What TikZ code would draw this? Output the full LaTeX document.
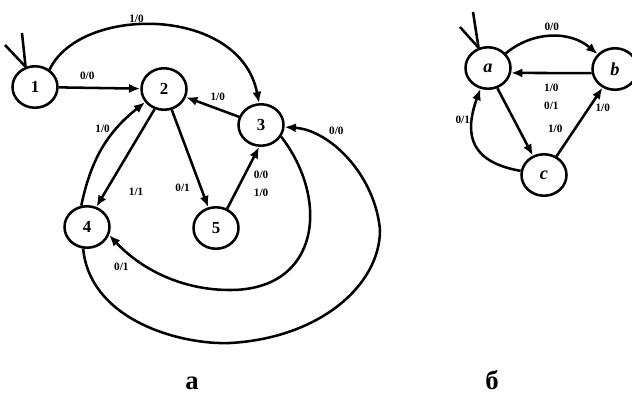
\documentclass[tikz,border=0pt]{standalone}
\usepackage{fontspec}
\setmainfont{Liberation Serif}
\usetikzlibrary{shapes.geometric, arrows.meta}

\begin{document}
\begin{tikzpicture}[
    x=0.025cm, y=-0.025cm,
    state/.style={draw, ellipse, line width=1.8pt, minimum width=32pt, minimum height=29.5pt, inner sep=0pt, font=\fontsize{12}{13}\selectfont\bfseries},
    letterstate/.style={state, font=\fontsize{13}{14}\selectfont\bfseries\itshape},
    arrow/.style={-{Latex[length=8pt, width=6.5pt]}, line width=1.8pt},
    plain/.style={line width=1.8pt},
    lbl/.style={font=\fontsize{8}{12.5}\selectfont\bfseries, inner sep=1pt, align=center},
    caption/.style={font=\fontsize{19}{21}\selectfont\bfseries}
]
    \useasboundingbox (0,0) rectangle (632,404);

    \node (s1) [state] at (35,87) {1};
    \node (s2) [state] at (164,89) {2};
    \node (s3) [state] at (261,125) {3};
    \node (s4) [state] at (87,227) {4};
    \node (s5) [state] at (216,228) {5};
    \coordinate (in1a) at (22,33);
    \coordinate (in1b) at (5,45);

    \draw [plain] (in1a) -- (s1.115);
    \draw [plain] (in1b) -- (s1.115);
    \draw [arrow] (s1) -- node[lbl, above=4pt, pos=0.35] {0/0} (s2);
    \draw [arrow] (s1.50) .. controls (80,5) and (240,5) .. node[lbl, above, pos=0.42] {1/0} (s3.95);
    \draw [arrow] (s3) -- node[lbl, above=4pt, pos=0.4] {1/0} (s2);
    \draw [arrow] (s4.105) to[bend left=20] node[lbl, left=3pt, pos=0.7] {1/0} (s2.215);
    \draw [arrow] (s2.-115) -- node[lbl, right=15pt, pos=0.85] {1/1} (s4.65);
    \draw [arrow] (s2) -- node[lbl, left=6pt, pos=0.8] {0/1} (s5);
    \draw [arrow] (s5.60) -- node[lbl, right=8pt, pos=0.4] {0/0\\1/0} (s3.-95);
    \draw [arrow] (s3.-30) .. controls (330,200) and (320,290) .. (230,290)
        .. controls (180,290) and (140,268) .. node[lbl, below left=2pt, pos=0.75] {0/1} (s4.-20);
    \draw [arrow] (s4.-100) .. controls (90,320) and (180,345) .. (230,343)
        .. controls (320,338) and (380,285) .. (380,230)
        .. controls (375,175) and (330,130) .. node[lbl, above=8pt, pos=0.6] {0/0} (s3.-5);

    \node (sa) [letterstate] at (488,68) {a};
    \node (sb) [letterstate] at (615,69) {b};
    \node (sc) [letterstate] at (544,175) {c};
    \coordinate (inaa) at (473,12);
    \coordinate (inab) at (460,27);

    \draw [plain] (inaa) -- (sa.115);
    \draw [plain] (inab) -- (sa.115);
    \draw [arrow] (sa) to[bend left=40] node[lbl, above=2pt] {0/0} (sb);
    \draw [arrow] (sb.190) -- node[lbl, below=6pt] {1/0\\0/1} (sa.-12);
    \draw [arrow] (sa.-65) -- node[lbl, right=19pt, pos=0.6] {1/0} (sc.120);
    \draw [arrow] (sc) to[out=170, in=-110, looseness=1.4] node[lbl, left=0pt, pos=0.75] {0/1} (sa);
    \draw [arrow] (sc) -- node[lbl, right=3pt, pos=0.7] {1/0} (sb);

    \node (capa) [caption] at (192,383) {а};
    \node (capb) [caption] at (492,380) {б};
\end{tikzpicture}
\end{document}
